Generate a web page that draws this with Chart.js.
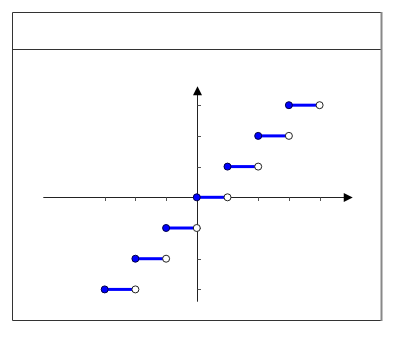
<!DOCTYPE html>
<html lang="en">
<head>
    <script src="https://cdn.jsdelivr.net/npm/chart.js"></script>
    <title>Floor Function</title>
    <style>
        html, body {
            margin: 0;
            padding: 0;
            background: #fff;
        }
        canvas {
            display: block;
        }
    </style>
</head>
<body>
    <canvas id="floorChart" width="400" height="339"></canvas>

    <script>
        // step function: y = floor(x) on [start, end)
        const stepStarts = [-3, -2, -1, 0, 1, 2, 3];
        const stepEnds = [-2, -1, 0, 1, 2, 3, 4];
        const stepValues = [-3, -2, -1, 0, 1, 2, 3];

        const xTicks = [-3, -2, -1, 1, 2, 3, 4];
        const yTicks = [-3, -2, -1, 1, 2, 3];

        const xRange = [-5, 5];
        const yRange = [-3.4, 3.4];
        const xArrowTip = 5.08;
        const yArrowTip = 3.62;

        const datasets = stepStarts.map((s, i) => ({
            data: [{x: s, y: stepValues[i]}, {x: stepEnds[i], y: stepValues[i]}],
            borderColor: '#0000ff',
            borderWidth: 3,
            pointRadius: 3.5,
            pointBorderWidth: 1,
            pointBackgroundColor: ['#0000ff', '#ffffff'],
            pointBorderColor: ['#000044', '#222222'],
            fill: false,
            clip: false
        }));

        const framePlugin = {
            id: 'frame',
            beforeDraw(chart) {
                const ctx = chart.ctx;
                ctx.save();
                ctx.fillStyle = '#fff';
                ctx.fillRect(0, 0, chart.width, chart.height);
                ctx.lineWidth = 1;
                ctx.strokeStyle = '#333';
                ctx.beginPath();
                ctx.moveTo(381, 12.5);
                ctx.lineTo(12.5, 12.5);
                ctx.lineTo(12.5, 320.5);
                ctx.lineTo(381, 320.5);
                ctx.moveTo(12.5, 49.5);
                ctx.lineTo(381, 49.5);
                ctx.stroke();
                ctx.strokeStyle = '#888';
                ctx.lineWidth = 2;
                ctx.beginPath();
                ctx.moveTo(381.5, 12);
                ctx.lineTo(381.5, 321);
                ctx.stroke();
                ctx.restore();
            },
            beforeDatasetsDraw(chart) {
                const ctx = chart.ctx;
                const xs = chart.scales.x, ys = chart.scales.y;
                const ox = Math.round(xs.getPixelForValue(0)) + 0.5;
                const oy = Math.round(ys.getPixelForValue(0)) + 0.5;
                ctx.save();
                ctx.strokeStyle = '#222';
                ctx.fillStyle = '#000';
                ctx.lineWidth = 1;

                // x axis
                const xl = xs.getPixelForValue(xRange[0]);
                const xt = xs.getPixelForValue(xArrowTip);
                ctx.beginPath();
                ctx.moveTo(xl, oy);
                ctx.lineTo(xt - 8, oy);
                ctx.stroke();
                ctx.beginPath();
                ctx.moveTo(xt, oy);
                ctx.lineTo(xt - 9, oy - 4.5);
                ctx.lineTo(xt - 9, oy + 4.5);
                ctx.closePath();
                ctx.fill();

                // y axis
                const yb = ys.getPixelForValue(yRange[0]);
                const yt = ys.getPixelForValue(yArrowTip);
                ctx.beginPath();
                ctx.moveTo(ox, yb);
                ctx.lineTo(ox, yt + 8);
                ctx.stroke();
                ctx.beginPath();
                ctx.moveTo(ox, yt);
                ctx.lineTo(ox - 4.5, yt + 9);
                ctx.lineTo(ox + 4.5, yt + 9);
                ctx.closePath();
                ctx.fill();

                // ticks
                ctx.strokeStyle = '#555';
                ctx.beginPath();
                xTicks.forEach(v => {
                    const px = Math.round(xs.getPixelForValue(v)) + 0.5;
                    ctx.moveTo(px, oy);
                    ctx.lineTo(px, oy + 3.5);
                });
                yTicks.forEach(v => {
                    const py = Math.round(ys.getPixelForValue(v)) + 0.5;
                    ctx.moveTo(ox, py);
                    ctx.lineTo(ox + 3.5, py);
                });
                ctx.stroke();
                ctx.restore();
            }
        };

        new Chart(document.getElementById('floorChart').getContext('2d'), {
            type: 'line',
            data: { datasets: datasets },
            options: {
                responsive: false,
                animation: false,
                layout: {
                    padding: { left: 43.3, right: 49.7, top: 92.9, bottom: 37.3 }
                },
                plugins: {
                    legend: { display: false },
                    tooltip: { enabled: false }
                },
                scales: {
                    x: { type: 'linear', min: xRange[0], max: xRange[1], display: false },
                    y: { type: 'linear', min: yRange[0], max: yRange[1], display: false }
                }
            },
            plugins: [framePlugin]
        });
    </script>
</body>
</html>
